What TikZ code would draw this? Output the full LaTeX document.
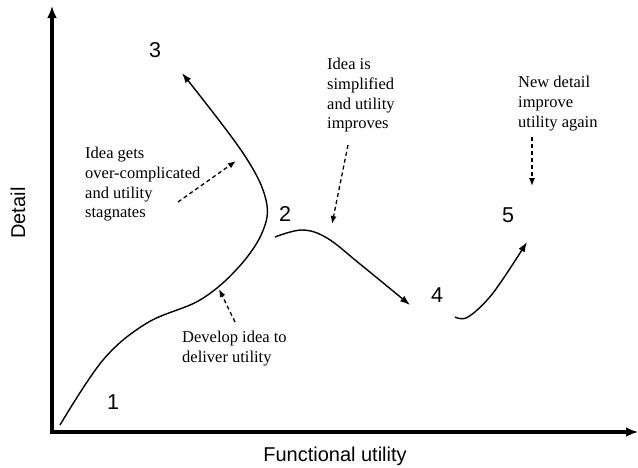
\documentclass[tikz,border=0pt]{standalone}
\usepackage{fontspec}
\setmainfont{Liberation Serif}
\setsansfont{Liberation Sans}
\usetikzlibrary{arrows.meta}
\begin{document}
\begin{tikzpicture}[x=1pt,y=-1pt,
  axis/.style={line width=3.8pt,-{Latex[length=12pt,width=10pt]}},
  curve/.style={line width=1.4pt,-{Latex[length=10pt,width=7pt]}},
  note/.style={line width=1.3pt,dash pattern=on 4pt off 3pt,-{Latex[length=8pt,width=6pt]}},
  txt/.style={font=\fontsize{16.5}{19.7}\selectfont,align=left,anchor=north west,inner sep=0pt},
  num/.style={font=\sffamily\fontsize{21.5}{21.5}\selectfont,inner sep=0pt},
  lab/.style={font=\sffamily\fontsize{20}{20}\selectfont,inner sep=0pt}]
\useasboundingbox (0,0) rectangle (638,467);
% axes
\coordinate (O) at (52,432);
\coordinate (Ytop) at (52,6);
\coordinate (Xend) at (638,432);
\draw[axis] ([yshift=1.9pt]O) -- (Ytop);
\draw[axis] ([xshift=-1.9pt]O) -- (Xend);
\node[lab,rotate=90] (ylab) at (18,213) {Detail};
\node[lab] (xlab) at (335,456) {Functional utility};
% numbers
\node[num] (n1) at (113,402) {1};
\node[num] (n2) at (285,214) {2};
\node[num] (n3) at (155,50) {3};
\node[num] (n4) at (437,295) {4};
\node[num] (n5) at (508,215) {5};
% curves
\draw[curve] plot[smooth,tension=0.6] coordinates {(60,425) (103,360) (147,323) (200,300) (237,269) (262,233) (266,200) (243,153) (182,73)};
\draw[curve] plot[smooth,tension=0.6] coordinates {(275,237) (302,230) (327,238) (360,264) (410,305)};
\draw[curve] plot[smooth,tension=0.6] coordinates {(455,317) (468,317) (493,293) (527,242)};
% annotations
\node[txt] (t1) at (85,147) {Idea gets\\over-complicated\\and utility\\stagnates};
\node[txt] (t2) at (327,58) {Idea is\\simplified\\and utility\\improves};
\node[txt] (t3) at (518,76) {New detail\\improve\\utility again};
\node[txt] (t4) at (182,331) {Develop idea to\\deliver utility};
\coordinate (a1s) at (178,202); \coordinate (a1e) at (236,161);
\coordinate (a2s) at (348,145); \coordinate (a2e) at (332,224);
\coordinate (a3s) at (532,137); \coordinate (a3e) at (532,186);
\coordinate (a4s) at (235,322); \coordinate (a4e) at (219,289);
\draw[note] (a1s) -- (a1e);
\draw[note] (a2s) -- (a2e);
\draw[note] (a3s) -- (a3e);
\draw[note] (a4s) -- (a4e);
\end{tikzpicture}
\end{document}
